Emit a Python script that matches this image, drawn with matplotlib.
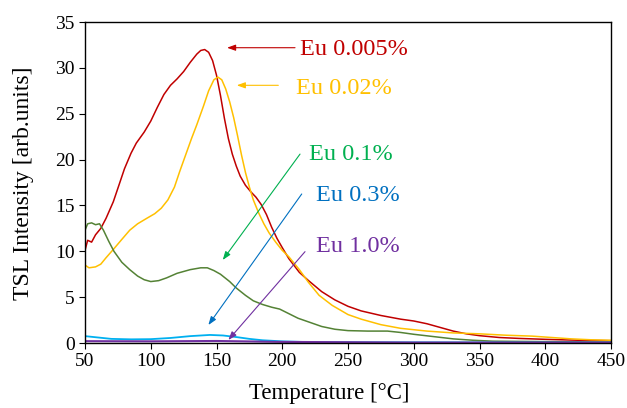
import matplotlib
matplotlib.use("Agg")
import matplotlib.pyplot as plt

# --- data ---
red_x = [50, 52, 55, 58, 62, 66, 71.5, 76, 80, 85, 89, 95, 100, 105, 110, 115, 120, 125, 130, 135, 138, 141,
         144, 147, 150, 153, 156, 159, 162, 165, 168, 172, 176, 180, 184, 188, 192, 196, 200, 205, 213, 220,
         230, 240, 250, 260, 275, 290, 300, 310, 320, 330, 340, 350, 365, 380, 400, 425, 450]
red_y = [10.1, 11.2, 11.0, 11.8, 12.5, 13.6, 15.4, 17.3, 19.0, 20.7, 21.8, 23.0, 24.2, 25.7, 27.1, 28.1, 28.8,
         29.6, 30.6, 31.5, 31.9, 32.0, 31.7, 30.8, 29.2, 27.0, 24.5, 22.3, 20.6, 19.3, 18.2, 17.2, 16.5, 15.9,
         15.1, 14.0, 12.6, 11.4, 10.4, 9.2, 7.7, 6.8, 5.6, 4.7, 4.0, 3.5, 3.0, 2.6, 2.4, 2.1, 1.7, 1.3, 1.0,
         0.8, 0.6, 0.5, 0.4, 0.3, 0.25]

gold_x = [50, 53, 58, 62, 66, 71.5, 78, 84, 90, 97, 103, 108, 113, 118, 122, 127, 131, 135, 140, 144, 148,
          151, 154, 157, 160, 163, 166, 169, 172, 175, 178, 182, 186, 190, 195, 200, 205, 213, 220, 228, 238,
          250, 260, 275, 290, 310, 330, 350, 370, 390, 405, 420, 435, 450]
gold_y = [8.5, 8.2, 8.3, 8.6, 9.3, 10.2, 11.3, 12.3, 13.0, 13.6, 14.1, 14.7, 15.6, 17.0, 18.7, 20.7, 22.3,
          23.8, 25.8, 27.5, 28.7, 29.0, 28.7, 27.7, 26.3, 24.6, 22.6, 20.5, 18.6, 17.0, 15.6, 14.2, 13.0, 12.0,
          11.0, 10.1, 9.4, 8.0, 6.6, 5.2, 4.1, 3.1, 2.6, 2.0, 1.6, 1.3, 1.1, 1.0, 0.85, 0.75, 0.6, 0.45, 0.35,
          0.3]

green_x = [50, 52, 55, 58, 61, 64, 68, 72, 78, 84, 90, 95, 100, 106, 112, 120, 130, 138, 143, 148, 153, 160,
           165, 172, 178, 185, 192, 198, 205, 212, 220, 230, 240, 250, 265, 280, 290, 300, 315, 330, 345, 360,
           400, 450]
green_y = [12.3, 13.0, 13.1, 12.9, 13.0, 12.3, 11.1, 10.0, 8.8, 8.0, 7.3, 6.9, 6.7, 6.8, 7.1, 7.6, 8.0, 8.2,
           8.2, 7.9, 7.5, 6.7, 6.0, 5.2, 4.6, 4.2, 3.9, 3.7, 3.2, 2.7, 2.3, 1.8, 1.5, 1.35, 1.3, 1.3, 1.15,
           0.95, 0.7, 0.45, 0.3, 0.2, 0.15, 0.1]

blue_x = [50, 60, 70, 85, 100, 115, 130, 145, 155, 165, 175, 185, 200, 220, 260, 450]
blue_y = [0.75, 0.6, 0.45, 0.4, 0.42, 0.55, 0.75, 0.88, 0.82, 0.65, 0.45, 0.3, 0.18, 0.1, 0.08, 0.05]

purple_x = [50, 100, 150, 200, 300, 450]
purple_y = [0.2, 0.18, 0.22, 0.12, 0.05, 0.05]

labels = ["Eu 0.005%", "Eu 0.02%", "Eu 0.1%", "Eu 0.3%", "Eu 1.0%"]

plt.rcParams["font.family"] = ["Liberation Serif", "DejaVu Serif"]

fig = plt.figure(figsize=(6.27, 4.08), dpi=100)
ax = fig.add_axes([0.1356, 0.1593, 0.8389, 0.7867])

ax.plot(red_x, red_y, color="#C00000", lw=1.1)
ax.plot(gold_x, gold_y, color="#FFC000", lw=1.1)
ax.plot(green_x, green_y, color="#548235", lw=1.1)
ax.plot(blue_x, blue_y, color="#00B0F0", lw=1.3)
ax.plot(purple_x, purple_y, color="#7030A0", lw=1.5)

# labels with arrows: (text pos, arrow tail, arrow head, colour)
notes = [
    ((213.5, 32.0), (209.7, 32.2), (158, 32.2), "#C00000"),
    ((210.5, 27.8), (197, 28.1), (165.4, 28.1), "#FFC000"),
    ((220, 20.6), (213.5, 20.6), (154.7, 9.05), "#00B050"),
    ((225.7, 16.1), (214.8, 16.25), (143.8, 1.96), "#0070C0"),
    ((225.7, 10.5), (217.3, 9.96), (159, 0.33), "#7030A0"),
]
for lab, (tpos, tail, head, c) in zip(labels, notes):
    ax.text(tpos[0], tpos[1], lab, color=c, fontsize=17.5, va="center", ha="left")
    ax.annotate("", xy=head, xytext=tail,
                arrowprops=dict(arrowstyle="-|>,head_length=0.5,head_width=0.18", color=c, lw=0.8,
                                shrinkA=0, shrinkB=0))

ax.set_xlim(50, 450)
ax.set_ylim(0, 35)
ax.set_xticks(range(50, 451, 50))
ax.set_yticks(range(0, 36, 5))
ax.tick_params(direction="out", length=4, labelsize=14, right=False, top=False)
for s in ax.spines.values():
    s.set_linewidth(1.0)

fig.text(329 / 627, 1 - 393 / 408, "Temperature [°C]", fontsize=16.5, ha="center", va="center")
fig.text(24 / 627, 1 - 183 / 408, "TSL Intensity [arb.units]", fontsize=17, ha="center", va="center",
         rotation=90)

fig.savefig("out.png", dpi=100)
